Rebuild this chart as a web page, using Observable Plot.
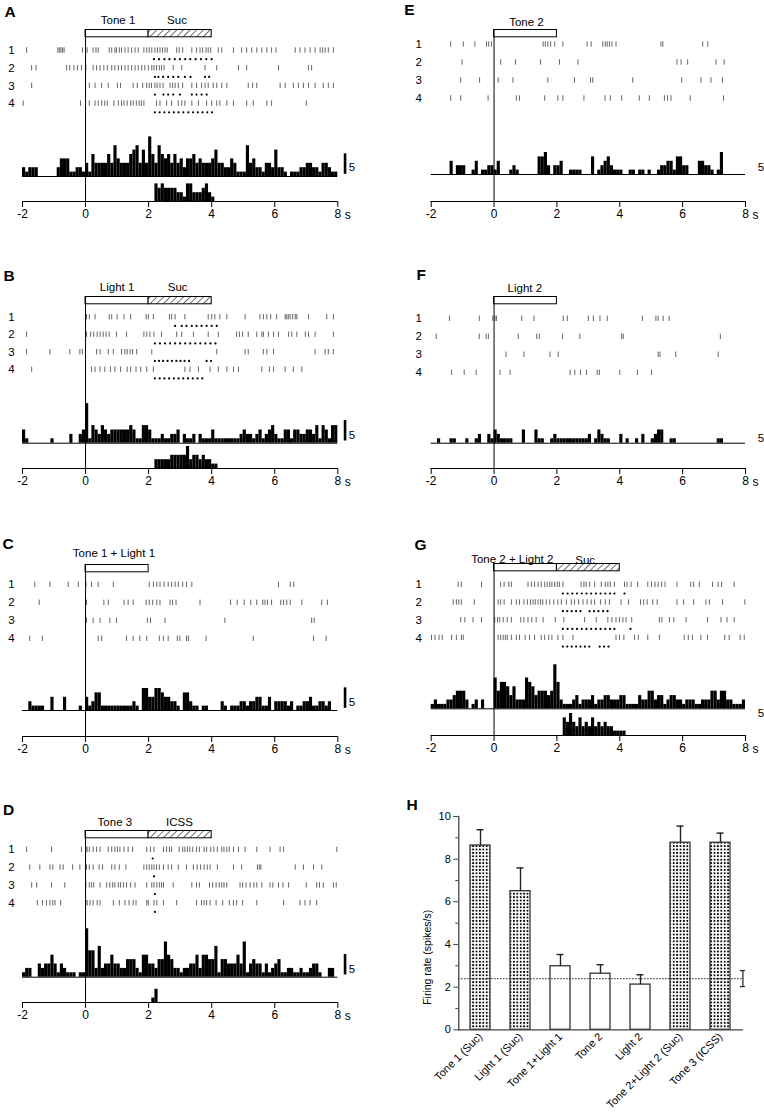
<!DOCTYPE html>
<html><head><meta charset="utf-8">
<script src="https://cdn.jsdelivr.net/npm/d3@7"></script>
<script src="https://cdn.jsdelivr.net/npm/@observablehq/plot@0.6"></script>
<style>
body{margin:0;background:#fff;}
#fig{position:relative;width:764px;height:1119px;overflow:hidden;background:#fff;}
.panel{position:absolute;}
</style></head><body>
<svg width="0" height="0" style="position:absolute">
<defs>
<pattern id="hatch" patternUnits="userSpaceOnUse" width="4.7" height="4.7" patternTransform="rotate(45)">
<rect width="4.7" height="4.7" fill="white"/><line x1="0" y1="0" x2="0" y2="4.7" stroke="black" stroke-width="1.1"/>
</pattern>
<pattern id="dots" patternUnits="userSpaceOnUse" width="3.4" height="3.4">
<rect width="3.4" height="3.4" fill="white"/><rect x="0.8" y="0.8" width="1.8" height="1.8" fill="black"/>
</pattern>
</defs></svg>
<div id="fig"></div>
<script>
// ---------------- DATA ----------------
// spike times (s) per trial, lick/stimulation times (s) per trial, PSTH counts (0.1 s bins from -2 s)
const BIN0 = -2, BIN = 0.1;

const A_spikes = [
 [-1.87,-0.88,-0.83,-0.78,-0.73,-0.68,-0.1,0.05,0.24,0.33,0.4,0.75,0.83,0.93,0.98,1.07,1.14,1.25,1.35,1.46,1.57,1.67,1.85,1.94,2.02,2.1,2.2,2.28,2.36,2.44,2.52,2.59,2.89,2.97,3.08,3.37,3.52,3.63,3.71,3.82,3.89,3.97,4.21,4.32,4.69,4.95,5.11,5.27,5.43,5.59,5.75,5.9,6.04,6.65,6.8,6.96,7.12,7.28,7.44,7.52,7.6,7.7,7.86],
 [-1.71,-1.57,-0.6,-0.5,-0.37,-0.26,-0.13,0.01,0.24,0.35,0.46,0.58,0.69,0.83,0.93,1.04,1.14,1.25,1.35,1.46,1.57,1.67,1.78,1.88,1.99,2.1,2.17,2.25,2.34,2.41,2.49,2.78,3.05,3.79,4.16,4.85,5.11,6.12,7.07,7.17],
 [-1.71,0.12,0.3,0.51,0.72,1.01,1.11,1.51,1.64,1.81,1.94,2.02,2.09,2.2,2.27,2.36,2.46,2.68,2.76,2.84,2.94,3.08,3.37,3.52,3.68,3.79,3.89,4.05,4.16,4.32,4.48,5.16,5.3,5.43,6.17,6.33,6.59,6.75,6.91,7.07,7.28,7.54,7.7,7.86],
 [-1.98,-0.16,0.12,0.3,0.4,0.51,0.61,0.69,0.9,1.04,1.14,1.22,1.32,1.43,1.51,1.61,1.7,1.77,1.85,2.25,2.36,2.57,2.73,2.94,3.05,3.15,3.37,3.58,3.84,4.0,4.16,4.26,4.48,4.69,5.11,5.32,5.75,5.9,7.0]
];
const A_licks = [
 [2.17,2.33,2.5,2.66,2.83,2.99,3.16,3.32,3.49,3.66,3.83,4.0],
 [2.2,2.31,2.46,2.62,2.78,2.94,3.15,3.33,3.79,3.92],
 [2.2,2.47,2.62,2.78,2.99,3.37,3.52,3.68,3.84],
 [2.2,2.35,2.5,2.65,2.8,2.95,3.1,3.26,3.41,3.56,3.71,3.86,4.01]
];
const A_psth = [2,1,2,2,2,0,0,0,0,0,0,2,4,4,4,1,1,2,2,1,
 3,1,5,3,3,3,3,5,3,7,4,3,3,3,5,6,7,3,6,3,
 9,5,3,7,5,4,5,3,5,3,4,2,4,4,5,3,4,3,3,3,
 4,6,3,3,2,2,4,3,1,1,1,7,3,4,2,2,1,3,3,2,
 6,2,2,1,0,1,1,1,2,2,3,3,2,2,1,3,3,2,1,1];
const A_sucStart = 2.2;
const A_suc = [4,3,4,3,3,3,3,2,2,1,4,4,2,2,2,3,4,2,1];

const B_spikes = [
 [0.03,0.12,0.3,0.75,0.83,1.0,1.22,1.43,1.92,1.99,2.15,2.66,2.73,2.84,3.15,3.89,4.0,4.1,4.26,4.48,5.06,5.53,5.64,5.75,5.87,6.06,6.33,6.38,6.43,6.49,6.57,6.65,6.7,7.07,7.65,7.86],
 [-1.87,0.03,0.16,0.26,0.37,0.46,0.56,0.65,0.75,0.98,1.3,1.85,1.94,2.04,2.17,2.41,2.89,3.05,3.42,3.89,4.21,4.79,4.88,4.98,5.16,5.43,5.59,5.64,5.8,5.96,6.12,6.44,6.54,6.7,6.97,7.07,7.28,7.86],
 [-1.87,-1.13,-0.5,-0.18,-0.1,0.35,0.46,0.72,0.88,1.14,1.25,1.32,1.41,1.49,1.62,2.1,4.16,5.06,5.16,5.64,5.75,5.96,7.28,7.6,7.7,7.86],
 [-1.71,0.19,0.3,0.46,0.61,0.79,0.93,1.11,1.32,1.43,1.6,1.75,1.94,2.15,3.15,3.31,3.58,3.95,4.21,4.48,4.69,4.85,5.59,5.83,5.96,6.33,6.59,6.86]
];
const B_licks = [
 [2.84,3.05,3.2,3.37,3.52,3.68,3.84,4.0,4.16],
 [2.2,2.36,2.52,2.68,2.84,3.0,3.16,3.32,3.48,3.64,3.8,3.96,4.12],
 [2.2,2.33,2.46,2.6,2.74,2.88,3.01,3.14,3.28,3.84,3.98],
 [2.2,2.35,2.5,2.65,2.8,2.95,3.1,3.25,3.4,3.55,3.7]
];
const B_psth = [3,1,0,0,0,0,0,0,0,1,0,0,0,0,0,2,0,0,2,3,
 9,1,4,3,2,4,3,2,3,3,3,3,3,3,4,3,1,1,4,4,
 3,1,1,1,2,1,1,2,2,3,0,2,1,1,2,0,2,1,1,1,
 3,1,1,1,1,1,1,1,1,2,3,2,2,1,2,3,1,2,3,4,
 2,1,1,3,3,1,3,3,2,2,3,3,2,4,1,4,3,1,4,4];
const B_sucStart = 2.2;
const B_suc = [2,2,2,2,2,3,3,3,3,3,5,2,3,3,2,3,2,2,1,1];

const C_spikes = [
 [-1.61,-1.13,-0.55,-0.23,0.01,0.19,0.4,0.88,2.02,2.15,2.26,2.36,2.49,2.62,2.73,2.84,2.94,3.08,3.2,3.37,6.12,6.49,6.6],
 [-1.47,0.03,0.58,0.72,1.22,1.35,1.51,1.92,2.02,2.13,2.26,2.36,2.68,2.76,2.87,3.63,4.6,4.81,5.03,5.24,5.43,5.62,5.69,5.77,5.9,6.19,6.28,6.38,6.49,6.86,7.49,7.67],
 [0.03,0.24,0.46,0.77,0.98,1.96,2.06,2.52,4.42,7.17,7.25],
 [-1.77,-1.37,0.4,0.51,1.3,1.51,1.72,1.94,2.34,2.47,2.62,2.91,2.99,3.2,3.26,3.82,5.32,7.23,7.63]
];
const C_psth = [0,0,2,1,1,1,1,0,0,3,0,0,0,3,0,0,0,0,1,0,
 3,1,2,4,4,1,1,1,1,1,1,1,1,1,1,2,1,0,5,5,
 3,3,5,5,4,3,3,2,2,1,0,4,4,2,1,1,0,1,1,0,
 0,0,0,2,1,0,1,1,1,2,2,1,2,2,3,3,1,1,3,0,
 2,2,2,2,1,2,0,1,1,2,2,3,1,1,2,2,1,2,0,0];

const D_spikes = [
 [-1.87,-1.08,-0.13,0.01,0.05,0.12,0.24,0.35,0.46,0.72,0.83,0.93,1.01,1.09,1.22,1.35,1.49,1.94,2.06,2.17,2.47,2.57,2.66,2.73,2.97,3.08,3.15,3.23,3.31,3.4,3.52,3.61,3.76,3.84,3.97,4.07,4.18,4.32,4.39,4.48,4.56,4.69,4.85,5.06,5.43,5.85,6.17,6.28,7.97],
 [-1.77,-1.45,-1.13,-1.04,-0.81,-0.71,-0.41,-0.18,0.03,0.12,0.24,0.43,0.54,0.83,0.93,1.07,1.28,1.85,1.94,2.02,2.1,2.17,2.25,2.34,2.47,2.62,2.73,2.94,3.2,3.42,3.54,3.65,3.76,3.86,3.95,4.18,4.69,4.95,5.45,5.51,5.56,6.65,6.91,7.23,7.49],
 [-1.71,-1.55,-1.08,-0.66,0.01,0.12,0.19,0.26,0.46,0.67,0.77,0.86,0.93,1.04,1.11,1.2,1.3,1.43,1.57,1.94,2.1,2.17,2.26,2.34,2.41,2.47,2.78,3.37,3.52,3.61,3.93,4.03,4.14,4.24,4.32,4.39,4.48,4.9,4.98,5.09,5.22,5.34,5.43,5.59,5.85,5.94,6.12,6.26,6.44,7.0,7.33,7.42,7.54,7.86,7.95],
 [-1.53,-1.37,-1.24,-1.13,-1.04,-0.97,-0.79,0.01,0.05,0.14,0.24,0.37,0.46,0.88,1.07,1.25,1.38,1.51,1.6,1.94,1.99,2.17,2.26,2.47,2.89,3.52,3.68,3.76,3.84,3.95,4.14,4.35,4.56,4.69,4.79,4.98,5.43,6.28,6.8,6.96,7.12,7.33]
];
const D_stims = [[2.13],[2.17],[2.2],[2.2]];
const D_psth = [1,2,2,0,0,3,2,3,3,5,3,1,3,2,1,1,1,0,1,1,
 11,6,6,2,7,2,3,3,5,3,3,2,2,4,4,4,2,1,5,5,
 3,3,2,4,4,8,5,4,2,2,1,2,2,3,3,5,2,5,5,4,
 4,7,1,4,4,3,3,3,5,3,8,1,3,4,3,3,1,3,1,2,
 3,4,1,1,2,2,1,1,2,1,1,2,3,3,1,0,0,2,2,0];
const D_icssStart = 2.1;
const D_icss = [1,3];

const E_spikes = [
 [-1.38,-0.98,-0.61,-0.24,-0.17,-0.08,1.56,1.63,1.71,1.8,1.93,2.19,2.96,3.09,3.46,3.54,3.6,3.67,3.75,3.88,5.31,5.37,6.64,6.8],
 [-1.02,0.21,0.68,1.48,2.08,2.67,5.82,5.95,6.16,7.06,7.32],
 [-1.06,-0.46,0.13,0.6,1.71,2.56,3.07,3.14,4.41,5.97,6.58,6.9,7.27],
 [-1.38,-1.06,-0.19,0.71,0.81,1.61,2.03,2.19,2.86,3.53,3.7,4.06,4.62,4.94,5.42,5.52,5.63,6.24,7.3]
];
const E_psth = [0,0,0,0,0,0,3,0,2,2,2,0,0,1,3,0,1,1,2,2,
 1,3,0,0,0,1,2,1,0,0,0,0,0,0,4,4,5,2,0,2,
 2,3,0,0,1,1,1,1,0,0,0,4,0,1,2,3,4,2,1,1,
 1,0,0,1,1,0,1,1,0,1,0,0,1,2,2,3,3,1,4,4,
 2,2,0,0,0,3,3,2,2,1,0,1,5,0,0,0,0,0,0,0];

const F_spikes = [
 [-1.42,-0.47,-0.04,0.03,0.08,0.88,1.27,2.2,2.33,3.0,3.16,3.37,3.6,4.72,5.15,5.22,5.38,5.57],
 [-1.84,-0.47,-0.25,-0.18,0.77,1.36,1.44,2.18,2.73,4.06,4.11,7.2],
 [0.38,0.95,1.78,2.04,5.22,5.28,5.78,7.13],
 [-1.35,-0.95,-0.57,0.19,0.51,2.42,2.57,2.75,2.94,3.28,3.35,4.0,4.56,5.01]
];
const F_psth = [0,0,1,0,0,0,1,1,0,0,0,1,0,0,1,2,0,0,2,1,
 3,2,1,1,1,1,0,0,0,3,0,0,0,3,1,1,0,0,1,2,
 1,1,1,1,1,1,1,1,1,1,2,0,1,3,2,1,1,0,0,0,
 2,0,1,0,0,1,0,2,0,0,1,2,3,3,0,0,1,1,0,0,
 0,0,0,0,0,0,0,0,0,0,0,1,1,0,0,0,0,0,0,0];

const G_spikes = [
 [-1.14,-1.04,-0.4,0.21,0.32,0.47,0.55,1.08,1.19,1.29,1.4,1.5,1.61,1.69,1.77,1.84,1.93,2.01,2.08,2.19,2.77,2.86,2.93,3.04,3.2,3.41,3.54,3.62,3.7,3.83,4.15,4.23,4.36,4.57,4.89,5.01,5.12,5.22,5.33,5.44,5.82,6.26,6.35,6.53,6.95,7.13,7.24,7.64],
 [-1.3,-1.2,-1.12,-1.04,-0.63,0.13,0.21,0.32,0.55,0.71,0.81,0.95,1.06,1.16,1.24,1.31,1.4,1.48,1.55,1.66,1.77,1.9,2.03,2.14,2.3,2.46,2.56,2.69,2.83,2.96,3.09,3.2,3.39,3.54,3.67,4.04,4.28,4.66,4.76,4.87,5.05,5.19,5.82,6.03,6.35,6.74,6.85,7.27,7.98],
 [-1.06,-0.93,-0.67,-0.4,0.02,0.11,0.18,0.29,0.42,0.55,0.85,0.95,1.08,1.2,1.34,1.56,1.95,2.22,2.88,3.25,3.62,3.75,3.88,3.99,4.1,4.2,4.38,5.26,5.34,5.58,5.72,6.11,6.79,7.22,7.41,7.64],
 [-1.99,-1.88,-1.75,-1.65,-1.35,-1.2,-1.04,-0.98,0.13,0.21,0.29,0.36,0.42,0.55,0.71,0.81,0.99,1.13,1.29,1.5,1.61,1.74,1.84,2.03,2.19,2.51,3.88,3.99,4.13,4.47,4.59,4.89,5.26,6.05,6.18,6.31,6.58,6.79,7.34,7.48,7.83,7.96]
];
const G_licks = [
 [2.19,2.34,2.49,2.64,2.79,2.94,3.09,3.24,3.39,3.54,3.69,3.83,4.15],
 [2.19,2.33,2.47,2.61,2.75,3.04,3.18,3.32,3.47,3.61],
 [2.19,2.34,2.49,2.64,2.79,2.94,3.09,3.24,3.39,3.54,3.69,3.83,4.34],
 [2.19,2.33,2.47,2.61,2.75,2.89,3.03,3.36,3.5,3.64]
];
const G_psth = [1,2,1,1,1,2,2,3,4,4,4,2,0,1,2,0,2,0,0,0,
 7,4,6,6,5,3,5,2,2,2,7,6,5,3,4,4,4,3,4,10,
 6,2,1,1,1,2,3,1,2,2,2,3,1,2,2,3,3,2,2,2,
 3,3,1,1,1,1,3,2,2,4,4,2,3,3,1,2,3,3,2,2,
 1,2,2,2,1,1,2,2,2,4,4,2,4,4,2,2,1,1,1,2];
const G_sucStart = 2.2;
const G_suc = [4,3,5,3,2,4,2,3,2,4,2,3,2,3,2,2,1,1,1,1];

const xTicks = [-2, 0, 2, 4, 6, 8];
const scaleBarCount = 5;

// Panel H: firing rate summary
const H_conditions = ["Tone 1 (Suc)", "Light 1 (Suc)", "Tone 1+Light 1", "Tone 2", "Light 2", "Tone 2+Light 2 (Suc)", "Tone 3 (ICSS)"];
const H_rate = [8.64, 6.5, 2.98, 2.63, 2.12, 8.77, 8.77];
const H_sem = [0.74, 1.09, 0.55, 0.42, 0.46, 0.78, 0.45];
const H_rewarded = [true, true, false, false, false, true, true];
const H_baseline = 2.4;
const H_baselineSem = 0.375;

// ---------------- LAYOUT ----------------
const FONT = "'Liberation Sans', Arial, Helvetica, sans-serif";
const UNIT = 4.4;           // px per spike count in histograms
const PH = 225, PMB = 24;   // panel svg height, bottom margin (axis position)
const LEFT = {left: 0, width: 380, marginLeft: 22, marginRight: 42.7, labelDx: -11, fiveX: 8.45};
const RIGHT = {left: 400, width: 364, marginLeft: 30.7, marginRight: 19, labelDx: -12.5, fiveX: 8.49};

const panels = [
 {letter: "A", side: LEFT, top: 0, base: 176, row0: 50, rowStep: 17.7, lx: 9.5, ly: 11.7,
  labels: [{s: "Tone 1", t: 1.03, y: 20}, {s: "Suc", t: 2.9, y: 20}], reward: true, bar: true, fiveY: 166.7,
  spikes: A_spikes, licks: A_licks, psth: A_psth, sucStart: A_sucStart, suc: A_suc},
 {letter: "B", side: LEFT, top: 267, base: 175.7, row0: 49.7, rowStep: 17.5, lx: 8.5, ly: 8.3,
  labels: [{s: "Light 1", t: 1.0, y: 20.3}, {s: "Suc", t: 2.92, y: 20.3}], reward: true, bar: true, fiveY: 168,
  spikes: B_spikes, licks: B_licks, psth: B_psth, sucStart: B_sucStart, suc: B_suc},
 {letter: "C", side: LEFT, top: 535, base: 175, row0: 49.3, rowStep: 18, lx: 7.5, ly: 8.3,
  labels: [{s: "Tone 1 + Light 1", t: 0.9, y: 18}], reward: false, bar: true, fiveY: 166.7,
  spikes: C_spikes, psth: C_psth},
 {letter: "D", side: LEFT, top: 801, base: 175.7, row0: 48.3, rowStep: 17.8, lx: 8, ly: 9,
  labels: [{s: "Tone 3", t: 0.93, y: 20.7}, {s: "ICSS", t: 2.98, y: 20.7}], reward: true, bar: true, fiveY: 168.3,
  spikes: D_spikes, licks: D_stims, psth: D_psth, sucStart: D_icssStart, suc: D_icss},
 {letter: "E", side: RIGHT, top: 0, base: 174, row0: 44, rowStep: 18, lx: 9, ly: 10,
  labels: [{s: "Tone 2", t: 1.03, y: 21.7}], reward: false, bar: false, fiveY: 166.7,
  spikes: E_spikes, psth: E_psth},
 {letter: "F", side: RIGHT, top: 267, base: 175.7, row0: 51.3, rowStep: 18, lx: 20.8, ly: 8,
  labels: [{s: "Light 2", t: 0.98, y: 21}], reward: false, bar: false, fiveY: 171.3,
  spikes: F_spikes, psth: F_psth},
 {letter: "G", side: RIGHT, top: 534, base: 174.3, row0: 50.3, rowStep: 17.7, lx: 20, ly: 11,
  labels: [{s: "Tone 2 + Light 2", t: 0.58, y: 24.8}, {s: "Suc", t: 2.9, y: 25.5}], reward: true, bar: false, fiveY: 179.3,
  spikes: G_spikes, licks: G_licks, psth: G_psth, sucStart: G_sucStart, suc: G_suc}
];

const fig = document.getElementById("fig");
function place(svg, left, top) {
  const d = document.createElement("div");
  d.className = "panel";
  d.style.left = left + "px"; d.style.top = top + "px";
  d.appendChild(svg);
  fig.appendChild(d);
}

function drawRaster(p) {
  const s = p.side;
  const u = px => (p.base - px) / UNIT;
  const yBottom = u(PH - PMB), yTop = u(0);
  const rowY = r => u(p.row0 + r * p.rowStep);
  const dotY = r => u(p.row0 + r * p.rowStep + 8.7);
  const half = 2.7 / UNIT;
  const spikes = p.spikes.flatMap((ts, r) => ts.map(t => ({t, r})));
  const licks = (p.licks || []).flatMap((ts, r) => ts.map(t => ({t, r})));
  const psth = p.psth.map((c, i) => ({x1: BIN0 + i * BIN, x2: BIN0 + (i + 1) * BIN, c})).filter(d => d.c > 0);
  const suc = (p.suc || []).map((c, i) => ({x1: p.sucStart + i * BIN, x2: p.sucStart + (i + 1) * BIN, c})).filter(d => d.c > 0);
  const boxTop = u(29.5), boxBot = u(36.8);
  const marks = [
    Plot.ruleX(spikes, {x: "t", y1: d => rowY(d.r) - half, y2: d => rowY(d.r) + half, stroke: "#555", strokeWidth: 0.9}),
    Plot.dot(licks, {x: "t", y: d => dotY(d.r), r: 1.1, fill: "black", stroke: "none"}),
    Plot.rectY(psth, {x1: "x1", x2: "x2", y1: 0, y2: "c", fill: "black", inset: 0}),
    Plot.ruleY([0], {x1: -2, x2: 8, stroke: "black", strokeWidth: 1}),
    Plot.rectY(suc, {x1: "x1", x2: "x2", y1: yBottom, y2: d => yBottom + d.c, fill: "black", inset: 0}),
    Plot.rect([{a: 0, b: 2}], {x1: "a", x2: "b", y1: boxBot, y2: boxTop, fill: "white", stroke: "black", strokeWidth: 1}),
    ...(p.reward ? [Plot.rect([{a: 2, b: 4}], {x1: "a", x2: "b", y1: boxBot, y2: boxTop, fill: "url(#hatch)", stroke: "black", strokeWidth: 1})] : []),
    Plot.ruleX([0], {y1: yBottom, y2: boxTop, stroke: "black", strokeWidth: 1}),
    Plot.ruleY([yBottom], {x1: -2, x2: 8, stroke: "black", strokeWidth: 1}),
    Plot.axisX({ticks: xTicks, tickSize: 6, tickPadding: 2, fontSize: 12, tickFormat: d => String(d)}),
    Plot.text(["s"], {x: 8, frameAnchor: "bottom", dx: 10, dy: 13.5, lineAnchor: "middle", fontSize: 12, text: d => d}),
    Plot.text(p.labels, {x: "t", y: d => u(d.y), text: "s", fontSize: 11.5}),
    Plot.text([1, 2, 3, 4], {x: -2, y: d => rowY(d - 1), dx: s.labelDx, text: d => String(d), fontSize: 11.5}),
    ...(p.bar ? [Plot.ruleX([8.23], {y1: 0.5, y2: 0.5 + scaleBarCount * 0.93, stroke: "black", strokeWidth: 2.6})] : []),
    Plot.text([String(scaleBarCount)], {x: s.fiveX, y: u(p.fiveY), text: d => d, fontSize: 11.5}),
    Plot.text([p.letter], {frameAnchor: "top-left", dx: p.lx - s.marginLeft, dy: p.ly, textAnchor: "middle", lineAnchor: "middle", text: d => d, fontWeight: "bold", fontSize: 15.5})
  ];
  const svg = Plot.plot({
    width: s.width, height: PH,
    marginLeft: s.marginLeft, marginRight: s.marginRight, marginTop: 0, marginBottom: PMB,
    x: {domain: [-2, 8]},
    y: {domain: [yBottom, yTop], axis: null},
    style: {fontFamily: FONT, fontSize: "11px", color: "black", background: "transparent", overflow: "visible"},
    marks
  });
  place(svg, s.left, p.top);
}

panels.forEach(drawRaster);

// ---------------- Panel H ----------------
const hData = H_conditions.map((c, i) => ({c, v: H_rate[i], e: H_sem[i], rew: H_rewarded[i]}));
const lastCat = H_conditions[H_conditions.length - 1];
const hSvg = Plot.plot({
  width: 364, height: 329,
  marginLeft: 58.3, marginRight: 21, marginTop: 26, marginBottom: 89.7,
  x: {domain: H_conditions, paddingInner: 0.49, paddingOuter: 0.22, label: null},
  y: {domain: [0, 10], label: null},
  style: {fontFamily: FONT, fontSize: "11px", color: "black", background: "transparent", overflow: "visible"},
  marks: [
    Plot.barY(hData, {filter: d => d.rew, x: "c", y: "v", fill: "url(#dots)", stroke: "#333", strokeWidth: 1.3}),
    Plot.barY(hData, {filter: d => !d.rew, x: "c", y: "v", fill: "white", stroke: "#333", strokeWidth: 1.3}),
    Plot.ruleX(hData, {x: "c", y1: "v", y2: d => d.v + d.e, stroke: "#222", strokeWidth: 1.4}),
    Plot.tickY(hData, {x: "c", y: d => d.v + d.e, inset: 6.5, stroke: "#222", strokeWidth: 1.4}),
    Plot.ruleY([H_baseline], {stroke: "#222", strokeWidth: 1.1, strokeDasharray: "1.2,1.8"}),
    Plot.ruleX([H_baseline], {x: () => lastCat, y1: H_baseline - H_baselineSem, y2: H_baseline + H_baselineSem, dx: 22.4, stroke: "#222", strokeWidth: 1.2}),
    Plot.tickY([H_baseline - H_baselineSem, H_baseline + H_baselineSem], {x: () => lastCat, y: d => d, dx: 22.4, inset: 7.5, stroke: "#222", strokeWidth: 1.2}),
    Plot.ruleY([0], {stroke: "#444", strokeWidth: 1.3}),
    Plot.frame({anchor: "left", stroke: "#444", strokeWidth: 1.3}),
    Plot.axisX({tickRotate: -45, tickSize: 0, tickPadding: 5, fontSize: 11}),
    Plot.axisY({ticks: [0, 2, 4, 6, 8, 10], tickSize: 5, tickPadding: 3, fontSize: 11, stroke: "#444"}),
    Plot.axisY({ticks: [1, 3, 5, 7, 9], tickSize: 3, tickFormat: () => "", stroke: "#444"}),
    Plot.text(["Firing rate (spikes/s)"], {frameAnchor: "left", y: 3.4, dx: 26.7 - 58.3, rotate: -90, textAnchor: "middle", text: d => d, fontSize: 10.5}),
    Plot.text(["H"], {frameAnchor: "top-left", dx: 11.7 - 58.3, dy: 15 - 26, textAnchor: "middle", lineAnchor: "middle", text: d => d, fontWeight: "bold", fontSize: 15.5})
  ]
});
place(hSvg, 400, 790);
</script>
</body></html>
